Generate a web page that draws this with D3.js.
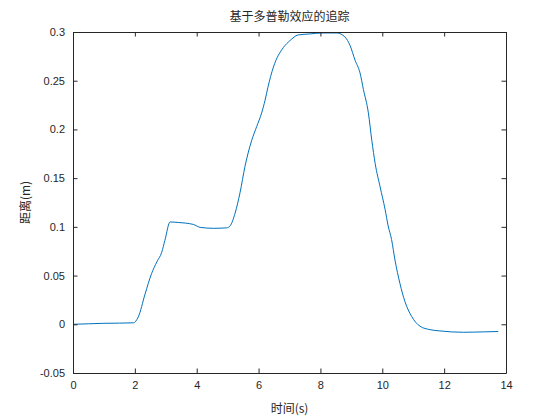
<!DOCTYPE html>
<html>
<head>
<meta charset="utf-8">
<script src="https://cdn.jsdelivr.net/npm/d3@7"></script>
<style>
  body { margin: 0; background: #fff; }
  text { fill: #262626; }
</style>
</head>
<body>
<div class="svg-container"></div>
<script>
// samples: time (s) and distance (m)
const timeS = [0, 0.5, 1.0, 1.5, 1.95, 2.11, 2.33, 2.54, 2.71, 2.87, 2.97, 3.14, 3.40, 3.89, 4.11, 4.54, 4.97,
  5.08, 5.24, 5.40, 5.56, 5.78, 5.94, 6.10, 6.21, 6.30, 6.48, 6.80, 7.01, 7.28, 7.66, 8.04, 8.53, 8.79, 8.96,
  9.12, 9.28, 9.39, 9.55, 9.66, 9.77, 9.93, 10.09, 10.19, 10.30, 10.41, 10.57, 10.73, 10.95, 11.22, 11.54, 11.86,
  12.62, 13.27, 13.75];
const distM = [0.0, 0.0005, 0.001, 0.0012, 0.0015, 0.0075, 0.031, 0.052, 0.064, 0.074, 0.086, 0.105, 0.1045, 0.1025, 0.0995, 0.0985, 0.099,
  0.101, 0.114, 0.135, 0.162, 0.189, 0.203, 0.217, 0.230, 0.243, 0.264, 0.284, 0.291, 0.297, 0.298, 0.299, 0.299, 0.295, 0.286,
  0.271, 0.258, 0.241, 0.217, 0.189, 0.165, 0.141, 0.118, 0.101, 0.087, 0.066, 0.042, 0.0235, 0.008, -0.002, -0.0055, -0.0068,
  -0.0082, -0.0078, -0.0074];

const xTicks = [0, 2, 4, 6, 8, 10, 12, 14];
const yTicks = [-0.05, 0, 0.05, 0.1, 0.15, 0.2, 0.25, 0.3];
const yTickLabels = ['-0.05', '0', '0.05', '0.1', '0.15', '0.2', '0.25', '0.3'];

const titleText = '基于多普勒效应的追踪';
const xLabel = '时间(s)';
const yLabel = '距离(m)';

const W = 560, H = 420;
const m = { left: 73, right: 506, top: 32, bottom: 373 };

const svg = d3.select('.svg-container').append('svg')
  .attr('width', W)
  .attr('height', H);

const x = d3.scaleLinear().domain([0, 14]).range([m.left, m.right]);
const y = d3.scaleLinear().domain([-0.05, 0.3]).range([m.bottom, m.top]);

const fontLatin = 'Liberation Sans, Arial, sans-serif';
const fontCJK = 'Noto Sans CJK SC, sans-serif';

// the curve
const pts = timeS.map((t, i) => [t, distM[i]]);
svg.append('path')
  .datum(pts)
  .attr('fill', 'none')
  .attr('stroke', '#0072BD')
  .attr('stroke-width', 1)
  .attr('d', d3.line().x(d => x(d[0])).y(d => y(d[1])).curve(d3.curveMonotoneX));

// axes, ticks pointing inward like matlab
const tickLen = 4.5;
const bottomAxis = d3.axisBottom(x).tickValues(xTicks).tickSizeInner(-tickLen).tickSizeOuter(0).tickPadding(8);
const topAxis = d3.axisTop(x).tickValues(xTicks).tickSizeInner(-tickLen).tickSizeOuter(0).tickFormat('');
const leftAxis = d3.axisLeft(y).tickValues(yTicks).tickSizeInner(-tickLen).tickSizeOuter(0).tickPadding(8)
  .tickFormat((d, i) => yTickLabels[i]);
const rightAxis = d3.axisRight(y).tickValues(yTicks).tickSizeInner(-tickLen).tickSizeOuter(0).tickFormat('');

function styleAxis(g) {
  g.selectAll('path, line').attr('stroke', '#262626').attr('stroke-width', 1);
  g.selectAll('text').attr('fill', '#262626').style('font-family', fontLatin).style('font-size', '11px');
}

svg.append('g').attr('transform', `translate(0,${m.bottom})`).call(bottomAxis).call(styleAxis);
svg.append('g').attr('transform', `translate(0,${m.top})`).call(topAxis).call(styleAxis);
svg.append('g').attr('transform', `translate(${m.left},0)`).call(leftAxis).call(styleAxis);
svg.append('g').attr('transform', `translate(${m.right},0)`).call(rightAxis).call(styleAxis);

// title and labels
svg.append('text')
  .attr('x', (m.left + m.right) / 2)
  .attr('y', 21)
  .attr('text-anchor', 'middle')
  .style('font-family', fontCJK)
  .style('font-size', '12px')
  .text(titleText);

svg.append('text')
  .attr('x', (m.left + m.right) / 2)
  .attr('y', 413)
  .attr('text-anchor', 'middle')
  .style('font-family', fontCJK)
  .style('font-size', '12px')
  .attr('fill', '#404040')
  .text(xLabel);

svg.append('text')
  .attr('transform', `translate(30,${(m.top + m.bottom) / 2}) rotate(-90)`)
  .attr('text-anchor', 'middle')
  .style('font-family', fontCJK)
  .style('font-size', '12px')
  .text(yLabel);
</script>
</body>
</html>
